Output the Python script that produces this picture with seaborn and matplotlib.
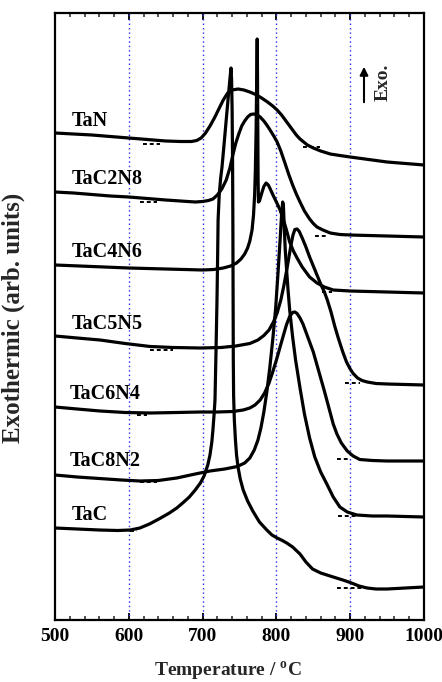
import numpy as np
import pandas as pd
import matplotlib
matplotlib.use("Agg")
import matplotlib.pyplot as plt
from matplotlib.ticker import MultipleLocator
import seaborn as sns

# ---------------- data (temperature in degC, signal in arb. units) ----------------
samples = ["TaN", "TaC2N8", "TaC4N6", "TaC5N5", "TaC6N4", "TaC8N2", "TaC"]

TaN_T = [500, 525, 550, 575, 600, 625, 650, 670, 685, 692, 698, 704, 710, 716, 722, 728, 734, 740, 748, 756,
         764, 772, 780, 788, 795, 801, 807, 812, 817, 822, 827, 832, 837, 842, 850, 860, 873, 886, 900, 925,
         950, 975, 1000]
TaN_S = [487, 486, 485, 483.5, 482, 480.5, 479, 478.5, 478.5, 479.5, 482, 487, 494, 502, 511, 520, 527, 530, 531, 530,
         528, 525.5, 522, 518, 514, 510, 505, 500, 495, 490, 485, 481, 478, 475, 472, 469, 466, 464.5, 463, 460.5,
         458, 456.5, 455]

TaC2N8_T = [500, 525, 550, 575, 600, 625, 650, 670, 690, 700, 708, 714, 720, 726, 732, 737, 741, 745, 749, 753,
            757, 761, 765, 769, 773, 778, 783, 787, 791, 796, 801, 806, 812, 817, 822, 827, 832, 838, 845, 850,
            855, 863, 873, 886, 900, 950, 1000]
TaC2N8_S = [428, 427, 425.5, 424, 423, 421.5, 420, 419, 418, 418.5, 419.5, 421, 425, 431, 440, 452, 465, 477, 486, 494,
            499, 503, 505.5, 506, 505.5, 503, 499, 495, 490.5, 484.5, 478, 469, 456, 445, 435, 426, 418, 409, 401, 396.5,
            393, 390, 387, 385.5, 385, 384, 383]

TaC4N6_T = [500, 550, 600, 650, 700, 715, 728, 738, 746, 752, 757, 761, 764, 767, 769, 770.5, 771.5, 772.5, 773.3, 774,
            774.4, 774.8, 775.2, 775.7, 777, 779, 781, 783, 786, 789, 792, 796, 800, 805, 810, 814, 818, 823, 828, 835,
            845, 855, 865, 877, 900, 950, 1000]
TaC4N6_S = [355, 353.5, 352, 351, 350, 350.5, 352, 354, 357, 361, 366, 372, 379, 390, 405, 425, 450, 490, 540, 581,
            545, 490, 440, 418, 419, 424, 429, 433.5, 437, 435, 430.5, 424, 418, 410, 399, 389, 378, 369, 362, 353,
            343, 337, 333, 330, 329, 328, 327]

TaC5N5_T = [500, 530, 561, 595, 629, 660, 697, 725, 745, 764, 775, 783, 790, 796, 801, 806, 810, 814, 817, 820,
            822.5, 825, 828, 831, 835, 840, 845, 850, 855, 860, 865, 869, 874, 879, 883, 886, 890, 895, 900, 904,
            910, 916, 923, 935, 950, 1000]
TaC5N5_S = [284, 282, 280, 276.5, 273.5, 272.5, 272, 272.5, 274, 276.5, 280, 284.5, 290, 298, 307, 320, 334, 350, 363, 376,
            385, 390.5, 391, 388.5, 382, 373, 363, 354, 345, 336, 328, 320, 308, 294, 284, 277, 268, 258, 251, 246.5,
            242, 239.5, 238, 236.5, 236, 235]

TaC6N4_T = [500, 530, 561, 595, 629, 665, 697, 720, 741, 755, 764, 771, 778, 784, 790, 795, 800, 805, 810, 814,
            818, 822, 825, 828, 832, 836, 840, 845, 850, 855, 860, 865, 869, 873, 877, 882, 888, 896, 904, 913,
            930, 950, 1000]
TaC6N4_S = [213, 211, 209, 207.5, 207, 207.5, 208, 208, 208.5, 210, 212, 215, 220, 227, 237, 248, 260, 273, 286, 296,
            303.5, 307.5, 308, 306.5, 302, 296, 288, 278, 268, 255, 242, 229, 218, 207, 196, 186, 177, 169, 164, 160.5,
            159.5, 159, 159]

TaC8N2_T = [500, 530, 560, 590, 615, 640, 665, 690, 710, 730, 747, 757, 764, 770, 775, 779, 783, 787, 791, 795,
            799, 802, 805, 807, 808.5, 809.5, 810.5, 812, 814, 816, 818, 822, 826, 832, 838, 845, 852, 860, 869, 877,
            886, 896, 909, 930, 950, 1000]
TaC8N2_S = [145, 143, 141.5, 140, 139, 139.5, 142, 146, 149, 151, 153.5, 157, 162, 170, 180, 192, 208, 228, 252, 280,
            312, 345, 380, 405, 418, 415, 395, 370, 348, 328, 310, 283, 260, 232, 206, 182, 163, 148, 135, 123,
            113, 108, 105, 104, 104, 103]

TaC_T = [500, 530, 560, 585, 602, 615, 628, 642, 655, 665, 673, 682, 690, 697, 702, 707, 710, 712.5, 714, 715.5,
         716.8, 718.2, 719.5, 720.3, 721, 722.5, 724.5, 726.3, 729, 732, 735, 737, 738.5, 739.3, 740, 740.6, 741, 741.3,
         741.6, 742, 743, 744.5, 746, 748, 751, 755, 761, 768, 777, 787, 794, 801, 808, 814, 822, 832, 840, 849,
         860, 877, 890, 900, 912, 923, 935, 950, 975, 1000]
TaC_S = [92, 91, 90, 89.5, 90, 92, 96, 101.5, 107, 112, 117, 123, 130, 137, 144, 155, 165, 178, 190, 205,
         220, 270, 320, 360, 400, 425, 442, 453, 475, 500, 525, 541, 552, 540, 510, 460, 400, 330,
         260, 225, 200, 180, 165, 153, 141, 130, 119, 109, 98, 90, 85, 82, 79.5, 77, 73, 66, 58, 51,
         47, 43, 40, 37.5, 34, 32, 31, 31, 32, 33]

# short dotted baseline markers (start T, end T, level)
mark_T0 = [619, 836, 615, 852, 862, 629, 893, 611, 882, 615, 883, 602, 882]
mark_T1 = [642, 859, 638, 869, 875, 660, 913, 625, 900, 638, 909, 611, 917]
mark_S = [476, 473, 418, 384, 328, 270, 237, 205, 161, 138, 104, 89, 32]

# sample labels (left-aligned T, baseline level)
label_T = [523, 523, 523, 523, 520, 520, 523]
label_S = [494, 436, 363, 291, 221, 154, 100]

grid_T = [600, 700, 800, 900]
xticks = [500, 600, 700, 800, 900, 1000]

curves_T = [TaN_T, TaC2N8_T, TaC4N6_T, TaC5N5_T, TaC6N4_T, TaC8N2_T, TaC_T]
curves_S = [TaN_S, TaC2N8_S, TaC4N6_S, TaC5N5_S, TaC6N4_S, TaC8N2_S, TaC_S]

df = pd.concat(
    [pd.DataFrame({"T": t, "S": s, "sample": n}) for n, t, s in zip(samples, curves_T, curves_S)],
    ignore_index=True,
)

# ---------------- style ----------------
sns.set_theme(style="white")
plt.rcParams["font.family"] = ["Liberation Serif", "DejaVu Serif"]
plt.rcParams["font.weight"] = "bold"
plt.rcParams["mathtext.fontset"] = "custom"
plt.rcParams["mathtext.rm"] = "Liberation Serif:bold"
plt.rcParams["mathtext.bf"] = "Liberation Serif:bold"

fig = plt.figure(figsize=(4.42, 6.82), dpi=100)
ax = fig.add_axes([55 / 442, 62 / 682, 369 / 442, 607 / 682])

for g in grid_T:
    ax.axvline(g, color="#2a2af0", lw=1.0, ls=(0, (1, 2.2)), zorder=1)

sns.lineplot(data=df, x="T", y="S", units="sample", estimator=None, sort=False,
             color="black", lw=2.3, legend=False, ax=ax, zorder=3)
for line in ax.get_lines()[len(grid_T):]:
    line.set_solid_joinstyle("round")
    line.set_solid_capstyle("round")

for t0, t1, s in zip(mark_T0, mark_T1, mark_S):
    ax.plot([t0, t1], [s, s], color="black", lw=1.4, ls=(0, (2, 1.5)), zorder=2)

for n, t, s in zip(samples, label_T, label_S):
    ax.text(t, s, n, fontsize=14.5, fontweight="bold", ha="left", va="baseline", color="black")

ax.annotate("", xy=(918.7, 556), xytext=(918.7, 515),
            arrowprops=dict(arrowstyle="-|>", color="black", lw=1.5, mutation_scale=12))
ax.text(944, 538, "Exo.", rotation=90, fontsize=14, fontweight="bold", ha="center", va="center")

ax.set_xlim(500, 1000)
ax.set_ylim(0, 607)
ax.set_xticks(xticks)
ax.xaxis.set_minor_locator(MultipleLocator(20))
ax.set_yticks([])
ax.tick_params(axis="x", which="major", direction="in", length=5, width=1.3, top=True, bottom=True,
               labelsize=14, pad=6, colors="black")
ax.tick_params(axis="x", which="minor", direction="in", length=3, width=1.1, top=True, bottom=True)
for lab in ax.get_xticklabels():
    lab.set_fontweight("bold")
for sp in ax.spines.values():
    sp.set_linewidth(1.6)
    sp.set_color("black")
ax.set_xlabel("")
ax.set_ylabel("")

fig.text(228 / 442, 6 / 682, r"Temperature / $^{\mathbf{o}}$C", fontsize=14, fontweight="bold",
         ha="center", va="baseline")
fig.text(13 / 442, 1 - 318 / 682, "Exothermic (arb. units)", rotation=90, fontsize=18,
         fontweight="bold", ha="center", va="center")

fig.savefig("out.png", dpi=100)
